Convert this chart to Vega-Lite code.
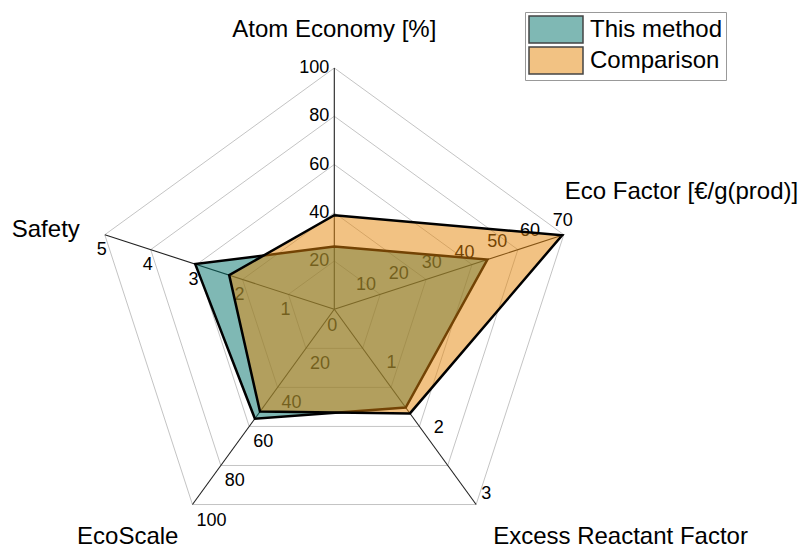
{
  "$schema": "https://vega.github.io/schema/vega-lite/v6.json",
  "width": 803,
  "height": 550,
  "autosize": {"type": "none"},
  "padding": 0,
  "background": "white",
  "config": {"view": {"stroke": null}, "font": "Liberation Sans"},
  "datasets": {
    "axes": [
      {"axis": "Atom Economy", "k": 0, "max": 100, "title": "Atom Economy [%]", "levels": [0.2, 0.4, 0.6, 0.8, 1]},
      {"axis": "Eco Factor", "k": 1, "max": 70, "title": "Eco Factor [€/g(prod)]", "levels": [0.2, 0.4, 0.6, 0.8, 1]},
      {"axis": "Excess Reactant Factor", "k": 2, "max": 3, "title": "Excess Reactant Factor", "levels": [0.2, 0.4, 0.6, 0.8, 1]},
      {"axis": "EcoScale", "k": 3, "max": 100, "title": "EcoScale", "levels": [0.2, 0.4, 0.6, 0.8, 1]},
      {"axis": "Safety", "k": 4, "max": 5, "title": "Safety", "levels": [0.2, 0.4, 0.6, 0.8, 1]}
    ],
    "scores": [
      {"series": "This method", "axis": "Atom Economy", "value": 26},
      {"series": "This method", "axis": "Eco Factor", "value": 46.7},
      {"series": "This method", "axis": "Excess Reactant Factor", "value": 1.51},
      {"series": "This method", "axis": "EcoScale", "value": 56},
      {"series": "This method", "axis": "Safety", "value": 3.03},
      {"series": "Comparison", "axis": "Atom Economy", "value": 39},
      {"series": "Comparison", "axis": "Eco Factor", "value": 69.5},
      {"series": "Comparison", "axis": "Excess Reactant Factor", "value": 1.6},
      {"series": "Comparison", "axis": "EcoScale", "value": 52.4},
      {"series": "Comparison", "axis": "Safety", "value": 2.29}
    ],
    "ticks": [
      {"axis": "Atom Economy", "value": 0},
      {"axis": "Atom Economy", "value": 20},
      {"axis": "Atom Economy", "value": 40},
      {"axis": "Atom Economy", "value": 60},
      {"axis": "Atom Economy", "value": 80},
      {"axis": "Atom Economy", "value": 100},
      {"axis": "Eco Factor", "value": 10},
      {"axis": "Eco Factor", "value": 20},
      {"axis": "Eco Factor", "value": 30},
      {"axis": "Eco Factor", "value": 40},
      {"axis": "Eco Factor", "value": 50},
      {"axis": "Eco Factor", "value": 60},
      {"axis": "Eco Factor", "value": 70},
      {"axis": "Excess Reactant Factor", "value": 1},
      {"axis": "Excess Reactant Factor", "value": 2},
      {"axis": "Excess Reactant Factor", "value": 3},
      {"axis": "EcoScale", "value": 20},
      {"axis": "EcoScale", "value": 40},
      {"axis": "EcoScale", "value": 60},
      {"axis": "EcoScale", "value": 80},
      {"axis": "EcoScale", "value": 100},
      {"axis": "Safety", "value": 1},
      {"axis": "Safety", "value": 2},
      {"axis": "Safety", "value": 3},
      {"axis": "Safety", "value": 4},
      {"axis": "Safety", "value": 5}
    ]
  },
  "encoding": {
    "x": {"field": "px", "type": "quantitative", "scale": {"domain": [-1.3854, 1.9424], "nice": false, "zero": false}, "axis": null},
    "y": {"field": "py", "type": "quantitative", "scale": {"domain": [-0.9975, 1.2818], "nice": false, "zero": false}, "axis": null}
  },
  "layer": [
    {
      "data": {"name": "axes"},
      "transform": [
        {"flatten": ["levels"], "as": ["level"]},
        {"calculate": "(90 - 72 * datum.k) * PI / 180", "as": "theta"},
        {"calculate": "datum.level * cos(datum.theta)", "as": "px"},
        {"calculate": "datum.level * sin(datum.theta)", "as": "py"}
      ],
      "mark": {"type": "line", "interpolate": "linear-closed", "stroke": "#c4c4c4", "strokeWidth": 1},
      "encoding": {"detail": {"field": "level", "type": "nominal"}, "order": {"field": "k", "type": "quantitative"}}
    },
    {
      "data": {"name": "axes"},
      "transform": [
        {"calculate": "(90 - 72 * datum.k) * PI / 180", "as": "theta"},
        {"calculate": "cos(datum.theta)", "as": "px"},
        {"calculate": "sin(datum.theta)", "as": "py"}
      ],
      "mark": {"type": "rule", "stroke": "#222222", "strokeWidth": 1.1},
      "encoding": {"x2": {"datum": 0}, "y2": {"datum": 0}}
    },
    {
      "data": {"name": "ticks"},
      "transform": [
        {"lookup": "axis", "from": {"data": {"name": "axes"}, "key": "axis", "fields": ["k", "max"]}},
        {"filter": "datum.axis === 'Atom Economy' && datum.value > 0"},
        {"calculate": "(90 - 72 * datum.k) * PI / 180", "as": "theta"},
        {"calculate": "datum.value / datum.max * cos(datum.theta)", "as": "px"},
        {"calculate": "datum.value / datum.max * sin(datum.theta)", "as": "py"}
      ],
      "mark": {"type": "text", "align": "right", "baseline": "middle", "dx": -5, "fontSize": 18, "color": "black"},
      "encoding": {"text": {"field": "value", "type": "quantitative"}}
    },
    {
      "data": {"name": "ticks"},
      "transform": [
        {"lookup": "axis", "from": {"data": {"name": "axes"}, "key": "axis", "fields": ["k", "max"]}},
        {"filter": "datum.axis === 'Atom Economy' && datum.value === 0"},
        {"calculate": "(90 - 72 * datum.k) * PI / 180", "as": "theta"},
        {"calculate": "datum.value / datum.max * cos(datum.theta)", "as": "px"},
        {"calculate": "datum.value / datum.max * sin(datum.theta)", "as": "py"}
      ],
      "mark": {"type": "text", "align": "center", "baseline": "middle", "dx": -2, "dy": 17, "fontSize": 18, "color": "black"},
      "encoding": {"text": {"field": "value", "type": "quantitative"}}
    },
    {
      "data": {"name": "ticks"},
      "transform": [
        {"lookup": "axis", "from": {"data": {"name": "axes"}, "key": "axis", "fields": ["k", "max"]}},
        {"filter": "datum.axis === 'Eco Factor'"},
        {"calculate": "(90 - 72 * datum.k) * PI / 180", "as": "theta"},
        {"calculate": "datum.value / datum.max * cos(datum.theta)", "as": "px"},
        {"calculate": "datum.value / datum.max * sin(datum.theta)", "as": "py"}
      ],
      "mark": {"type": "text", "align": "center", "baseline": "middle", "dx": -1, "dy": -14, "fontSize": 18, "color": "black"},
      "encoding": {"text": {"field": "value", "type": "quantitative"}}
    },
    {
      "data": {"name": "ticks"},
      "transform": [
        {"lookup": "axis", "from": {"data": {"name": "axes"}, "key": "axis", "fields": ["k", "max"]}},
        {"filter": "datum.axis === 'Excess Reactant Factor'"},
        {"calculate": "(90 - 72 * datum.k) * PI / 180", "as": "theta"},
        {"calculate": "datum.value / datum.max * cos(datum.theta)", "as": "px"},
        {"calculate": "datum.value / datum.max * sin(datum.theta)", "as": "py"}
      ],
      "mark": {"type": "text", "align": "left", "baseline": "middle", "dx": 5, "dy": -11, "fontSize": 18, "color": "black"},
      "encoding": {"text": {"field": "value", "type": "quantitative"}}
    },
    {
      "data": {"name": "ticks"},
      "transform": [
        {"lookup": "axis", "from": {"data": {"name": "axes"}, "key": "axis", "fields": ["k", "max"]}},
        {"filter": "datum.axis === 'EcoScale'"},
        {"calculate": "(90 - 72 * datum.k) * PI / 180", "as": "theta"},
        {"calculate": "datum.value / datum.max * cos(datum.theta)", "as": "px"},
        {"calculate": "datum.value / datum.max * sin(datum.theta)", "as": "py"}
      ],
      "mark": {"type": "text", "align": "left", "baseline": "middle", "dx": 4, "dy": 16, "fontSize": 18, "color": "black"},
      "encoding": {"text": {"field": "value", "type": "quantitative"}}
    },
    {
      "data": {"name": "ticks"},
      "transform": [
        {"lookup": "axis", "from": {"data": {"name": "axes"}, "key": "axis", "fields": ["k", "max"]}},
        {"filter": "datum.axis === 'Safety'"},
        {"calculate": "(90 - 72 * datum.k) * PI / 180", "as": "theta"},
        {"calculate": "datum.value / datum.max * cos(datum.theta)", "as": "px"},
        {"calculate": "datum.value / datum.max * sin(datum.theta)", "as": "py"}
      ],
      "mark": {"type": "text", "align": "center", "baseline": "middle", "dx": -3, "dy": 15.5, "fontSize": 18, "color": "black"},
      "encoding": {"text": {"field": "value", "type": "quantitative"}}
    },
    {
      "data": {"name": "scores"},
      "transform": [
        {"filter": "datum.series === 'This method'"},
        {"lookup": "axis", "from": {"data": {"name": "axes"}, "key": "axis", "fields": ["k", "max"]}},
        {"calculate": "(90 - 72 * datum.k) * PI / 180", "as": "theta"},
        {"calculate": "datum.value / datum.max * cos(datum.theta)", "as": "px"},
        {"calculate": "datum.value / datum.max * sin(datum.theta)", "as": "py"}
      ],
      "mark": {"type": "line", "interpolate": "linear-closed", "stroke": "black", "strokeWidth": 2.5, "fillOpacity": 0.5, "strokeJoin": "miter"},
      "encoding": {
        "order": {"field": "k", "type": "quantitative"},
        "fill": {
          "field": "series", "type": "nominal",
          "scale": {"domain": ["This method", "Comparison"], "range": ["#00716A", "#E58507"]},
          "legend": {
            "title": null, "orient": "none", "legendX": 525, "legendY": 12,
            "padding": 3, "strokeColor": "#999999", "fillColor": "white",
            "labelFontSize": 24, "labelFont": "Liberation Sans", "labelColor": "black",
            "symbolType": "M-1,-1H3V1H-1Z", "symbolSize": 729, "labelOffset": 33, "rowPadding": -3,
            "symbolStrokeWidth": 1.5, "symbolStrokeColor": "#444444",
            "encode": {"symbols": {"update": {"fillOpacity": {"value": 0.5}, "stroke": {"value": "#444444"}, "strokeWidth": {"value": 1.5}}}}
          }
        }
      }
    },
    {
      "data": {"name": "scores"},
      "transform": [
        {"filter": "datum.series === 'Comparison'"},
        {"lookup": "axis", "from": {"data": {"name": "axes"}, "key": "axis", "fields": ["k", "max"]}},
        {"calculate": "(90 - 72 * datum.k) * PI / 180", "as": "theta"},
        {"calculate": "datum.value / datum.max * cos(datum.theta)", "as": "px"},
        {"calculate": "datum.value / datum.max * sin(datum.theta)", "as": "py"}
      ],
      "mark": {"type": "line", "interpolate": "linear-closed", "stroke": "black", "strokeWidth": 2.5, "fillOpacity": 0.5, "strokeJoin": "miter"},
      "encoding": {
        "order": {"field": "k", "type": "quantitative"},
        "fill": {"field": "series", "type": "nominal"}
      }
    },
    {
      "data": {"name": "axes"},
      "transform": [
        {"filter": "datum.k === 0"},
        {"calculate": "(90 - 72 * datum.k) * PI / 180", "as": "theta"},
        {"calculate": "cos(datum.theta)", "as": "px"},
        {"calculate": "sin(datum.theta)", "as": "py"}
      ],
      "mark": {"type": "text", "align": "center", "baseline": "middle", "dy": -38, "fontSize": 24, "color": "black"},
      "encoding": {"text": {"field": "title", "type": "nominal"}}
    },
    {
      "data": {"name": "axes"},
      "transform": [
        {"filter": "datum.k === 1"},
        {"calculate": "(90 - 72 * datum.k) * PI / 180", "as": "theta"},
        {"calculate": "cos(datum.theta)", "as": "px"},
        {"calculate": "sin(datum.theta)", "as": "py"}
      ],
      "mark": {"type": "text", "align": "left", "baseline": "middle", "dx": 1, "dy": -43, "fontSize": 24, "color": "black"},
      "encoding": {"text": {"field": "title", "type": "nominal"}}
    },
    {
      "data": {"name": "axes"},
      "transform": [
        {"filter": "datum.k === 2"},
        {"calculate": "(90 - 72 * datum.k) * PI / 180", "as": "theta"},
        {"calculate": "cos(datum.theta)", "as": "px"},
        {"calculate": "sin(datum.theta)", "as": "py"}
      ],
      "mark": {"type": "text", "align": "left", "baseline": "middle", "dx": 17, "dy": 32.5, "fontSize": 24, "color": "black"},
      "encoding": {"text": {"field": "title", "type": "nominal"}}
    },
    {
      "data": {"name": "axes"},
      "transform": [
        {"filter": "datum.k === 3"},
        {"calculate": "(90 - 72 * datum.k) * PI / 180", "as": "theta"},
        {"calculate": "cos(datum.theta)", "as": "px"},
        {"calculate": "sin(datum.theta)", "as": "py"}
      ],
      "mark": {"type": "text", "align": "right", "baseline": "middle", "dx": -14, "dy": 32.5, "fontSize": 24, "color": "black"},
      "encoding": {"text": {"field": "title", "type": "nominal"}}
    },
    {
      "data": {"name": "axes"},
      "transform": [
        {"filter": "datum.k === 4"},
        {"calculate": "(90 - 72 * datum.k) * PI / 180", "as": "theta"},
        {"calculate": "cos(datum.theta)", "as": "px"},
        {"calculate": "sin(datum.theta)", "as": "py"}
      ],
      "mark": {"type": "text", "align": "right", "baseline": "middle", "dx": -25, "dy": -5, "fontSize": 24, "color": "black"},
      "encoding": {"text": {"field": "title", "type": "nominal"}}
    }
  ]
}
